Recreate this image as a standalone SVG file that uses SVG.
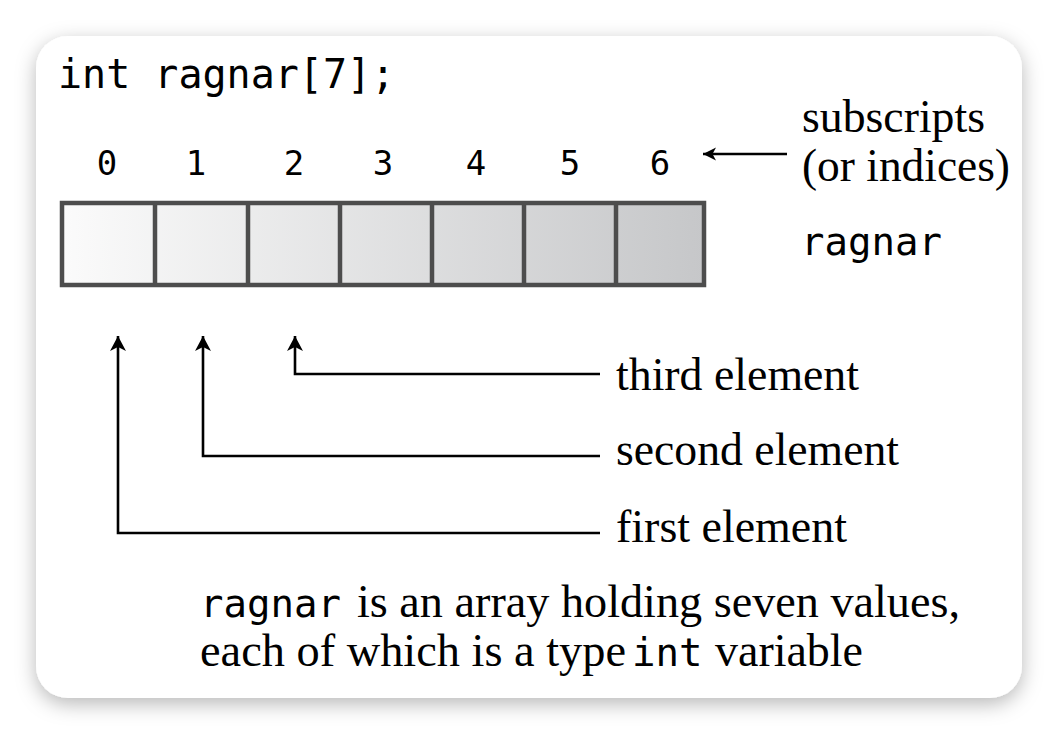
<svg xmlns="http://www.w3.org/2000/svg" width="1058" height="734" viewBox="0 0 1058 734">
  <defs>
    <filter id="shadow" x="-10%" y="-10%" width="120%" height="125%">
      <feDropShadow dx="0" dy="6" stdDeviation="10" flood-color="#000" flood-opacity="0.28"/>
    </filter>
    <linearGradient id="cellGrad" gradientUnits="userSpaceOnUse" x1="62" y1="0" x2="704" y2="0">
      <stop offset="0" stop-color="#fbfbfb"/>
      <stop offset="1" stop-color="#c6c7c9"/>
    </linearGradient>
    <marker id="arrowBig" markerUnits="userSpaceOnUse" markerWidth="20" markerHeight="20" viewBox="-1 -10 18 20" refX="15" refY="0" orient="auto">
      <path d="M15,0 L0,-8 L4,0 L0,8 Z" fill="#000"/>
    </marker>
    <marker id="arrowSmall" markerUnits="userSpaceOnUse" markerWidth="18" markerHeight="18" viewBox="-1 -9 16 18" refX="13" refY="0" orient="auto">
      <path d="M13,0 L0,-6.5 L3.5,0 L0,6.5 Z" fill="#000"/>
    </marker>
    <style>
      .mono { font-family: "DejaVu Sans Mono", "Liberation Mono", monospace; fill: #000; }
      .serif { font-family: "Liberation Serif", "Times New Roman", serif; fill: #000; font-size: 46px; }
      .conn { fill: none; stroke: #000; stroke-width: 2.6; }
      .cell { fill: none; stroke: #4d4d4d; stroke-width: 4.5; }
    </style>
  </defs>

  <rect x="0" y="0" width="1058" height="734" fill="#ffffff"/>
  <rect id="card" x="36" y="36" width="986" height="662" rx="32" ry="32" fill="#ffffff" filter="url(#shadow)"/>

  <g id="declaration">
    <text class="mono" x="58" y="88" font-size="40">int ragnar[7];</text>
  </g>

  <g id="indices" class="mono" font-size="34" text-anchor="middle">
    <text x="107" y="175">0</text>
    <text x="196" y="175">1</text>
    <text x="294" y="175">2</text>
    <text x="383" y="175">3</text>
    <text x="476" y="175">4</text>
    <text x="570" y="175">5</text>
    <text x="660" y="175">6</text>
  </g>

  <g id="array">
    <rect x="62" y="203" width="642" height="82" fill="url(#cellGrad)"/>
    <rect class="cell" x="62" y="203" width="642" height="82"/>
    <line class="cell" x1="155" y1="203" x2="155" y2="285"/>
    <line class="cell" x1="248" y1="203" x2="248" y2="285"/>
    <line class="cell" x1="340" y1="203" x2="340" y2="285"/>
    <line class="cell" x1="432" y1="203" x2="432" y2="285"/>
    <line class="cell" x1="524" y1="203" x2="524" y2="285"/>
    <line class="cell" x1="616" y1="203" x2="616" y2="285"/>
  </g>

  <g id="subscripts-label">
    <text class="serif" x="802" y="132" textLength="183" lengthAdjust="spacingAndGlyphs">subscripts</text>
    <text class="serif" x="802" y="181" textLength="208" lengthAdjust="spacingAndGlyphs">(or indices)</text>
  </g>

  <g id="name-label">
    <text class="mono" x="801" y="255" font-size="39">ragnar</text>
  </g>

  <g id="third-label">
    <text class="serif" x="616" y="390" textLength="243" lengthAdjust="spacingAndGlyphs">third element</text>
  </g>
  <g id="second-label">
    <text class="serif" x="616" y="465" textLength="283" lengthAdjust="spacingAndGlyphs">second element</text>
  </g>
  <g id="first-label">
    <text class="serif" x="616" y="542" textLength="231" lengthAdjust="spacingAndGlyphs">first element</text>
  </g>

  <g id="connectors">
    <path class="conn" d="M787,154 H703" marker-end="url(#arrowSmall)"/>
    <path class="conn" d="M600,374 H295 V336" marker-end="url(#arrowBig)"/>
    <path class="conn" d="M600,456 H203 V336" marker-end="url(#arrowBig)"/>
    <path class="conn" d="M600,533 H118 V336" marker-end="url(#arrowBig)"/>
  </g>

  <g id="caption">
    <text class="mono" x="200" y="617" font-size="39">ragnar</text>
    <text class="serif" x="357" y="617" font-size="48" textLength="603" lengthAdjust="spacingAndGlyphs">is an array holding seven values,</text>
    <text class="serif" x="200" y="666" font-size="48" textLength="426" lengthAdjust="spacingAndGlyphs">each of which is a type</text>
    <text class="mono" x="632" y="666" font-size="39">int</text>
    <text class="serif" x="715" y="666" font-size="48" textLength="148" lengthAdjust="spacingAndGlyphs">variable</text>
  </g>
</svg>
